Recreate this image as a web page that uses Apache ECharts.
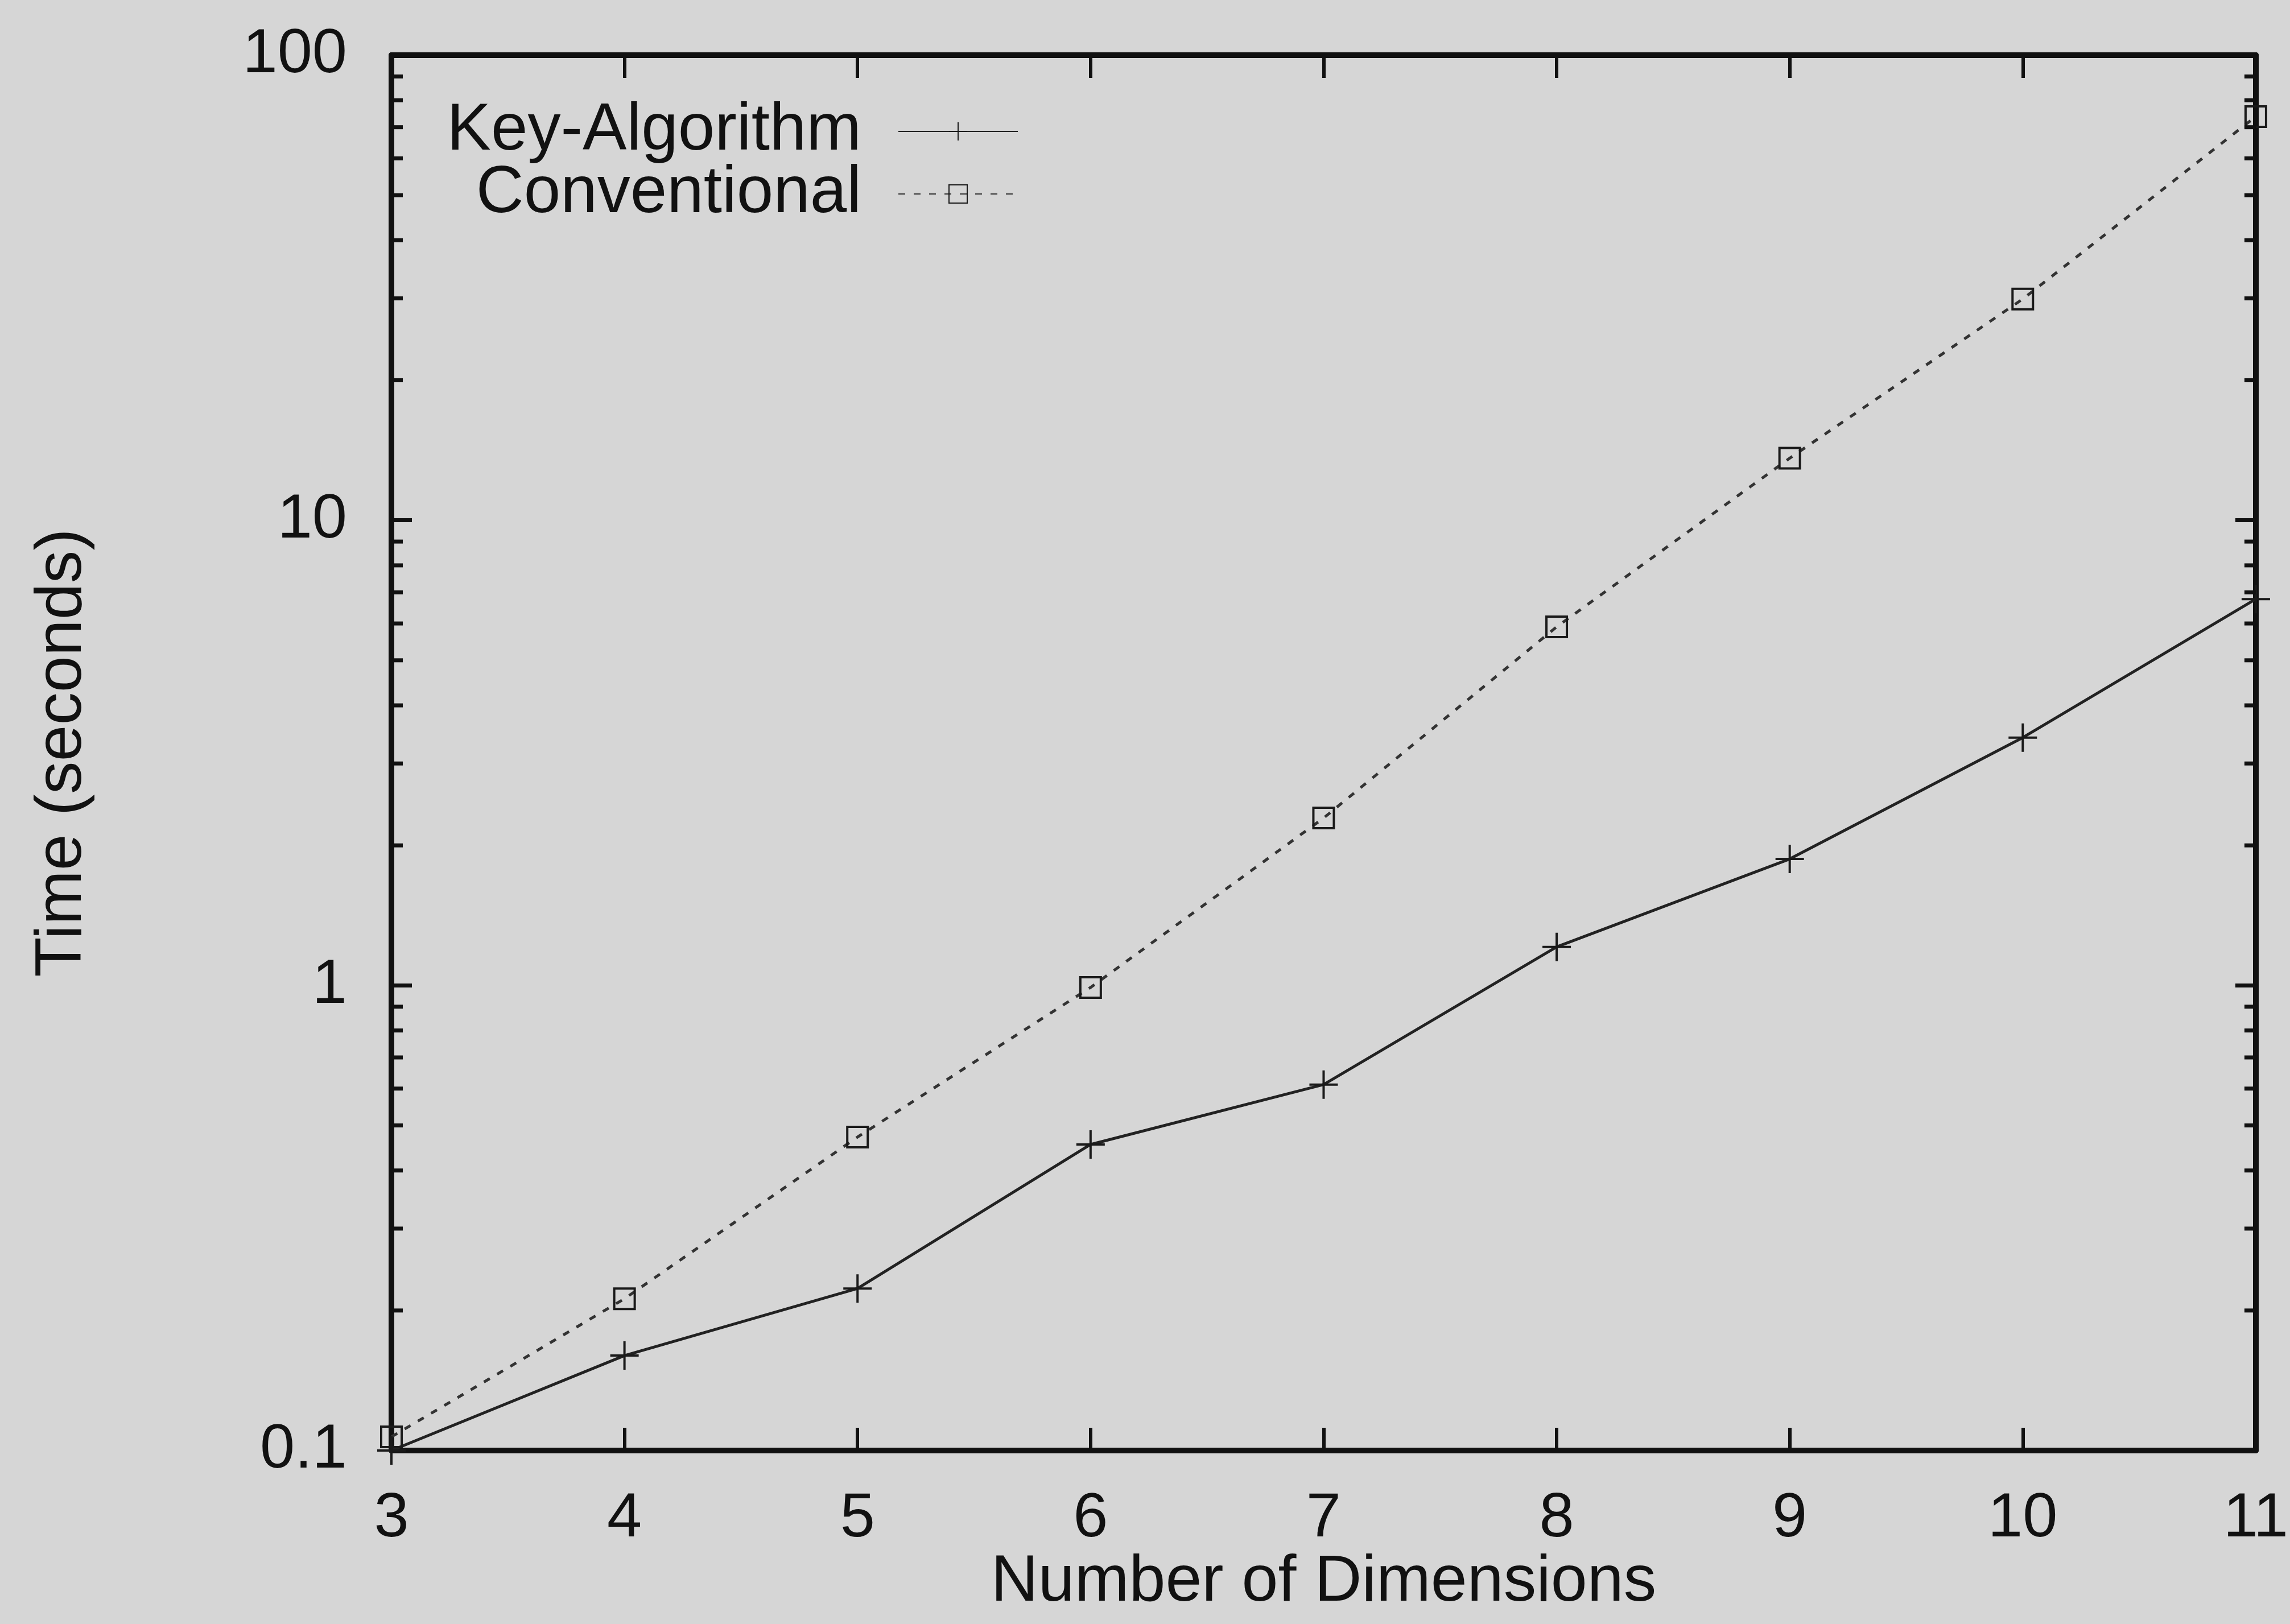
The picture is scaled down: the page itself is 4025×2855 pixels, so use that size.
<!DOCTYPE html>
<html>
<head>
<meta charset="utf-8">
<script src="https://cdn.jsdelivr.net/npm/echarts@6/dist/echarts.min.js"></script>
<style>
html,body{margin:0;padding:0;background:#d6d6d6;}
#chart{width:4025px;height:2855px;}
</style>
</head>
<body>
<div id="chart"></div>
<script>
const dimensions = [3, 4, 5, 6, 7, 8, 9, 10, 11];
const keyAlgorithm = [0.1, 0.16, 0.223, 0.455, 0.612, 1.21, 1.87, 3.41, 6.77];
const conventional = [0.107, 0.212, 0.472, 0.99, 2.29, 5.9, 13.6, 29.9, 73.8];
const minorTickValues = [0.2,0.3,0.4,0.5,0.6,0.7,0.8,0.9,2,3,4,5,6,7,8,9,20,30,40,50,60,70,80,90];
const xMin = 3, xMax = 11, yMin = 0.1, yMax = 100;

const FONT = 'Liberation Sans, Arial, Helvetica, sans-serif';
const INK = '#111';

const chart = echarts.init(document.getElementById('chart'), null, {renderer: 'canvas'});

const plusPath = 'path://M5,0 L5,10 M0,5 L10,5';
const squarePath = 'path://M0,0 L10,0 L10,10 L0,10 Z';

function legendFor(name, top) {
  return {
    data: [name],
    right: 2230,
    top: top,
    orient: 'vertical',
    align: 'right',
    itemWidth: 210,
    itemHeight: 40,
    textStyle: {fontFamily: FONT, fontSize: 116, color: INK, padding: [0, 60, 0, 0]}
  };
}

chart.setOption({
  backgroundColor: '#d6d6d6',
  animation: false,
  grid: {left: 688, right: 57, top: 97, bottom: 305, containLabel: false},
  legend: [legendFor('Key-Algorithm', 168), legendFor('Conventional', 278)],
  xAxis: [{
    type: 'value', min: xMin, max: xMax, interval: 1,
    name: 'Number of Dimensions', nameLocation: 'middle', nameGap: 175,
    nameMoveOverlap: false,
    nameTextStyle: {fontFamily: FONT, fontSize: 115, color: INK},
    axisLine: {show: true, lineStyle: {color: INK, width: 10}},
    axisTick: {show: true, inside: true, length: 40, lineStyle: {color: INK, width: 6}},
    axisLabel: {fontFamily: FONT, fontSize: 110, color: INK, margin: 66},
    splitLine: {show: false}
  }, {
    type: 'value', min: xMin, max: xMax, interval: 1, position: 'top',
    axisLine: {show: true, lineStyle: {color: INK, width: 10}},
    axisTick: {show: true, inside: true, length: 40, lineStyle: {color: INK, width: 6}},
    axisLabel: {show: false},
    splitLine: {show: false}
  }],
  yAxis: [{
    type: 'log', logBase: 10, min: yMin, max: yMax,
    name: 'Time (seconds)', nameLocation: 'middle', nameGap: 520,
    nameTextStyle: {fontFamily: FONT, fontSize: 115, color: INK},
    axisLine: {show: true, lineStyle: {color: INK, width: 10}},
    axisTick: {show: true, inside: true, length: 36, lineStyle: {color: INK, width: 7}},
    axisLabel: {fontFamily: FONT, fontSize: 110, color: INK, margin: 78,
      formatter: v => String(+v.toPrecision(6))},
    splitLine: {show: false},
    minorTick: {show: false}
  }, {
    type: 'log', logBase: 10, min: yMin, max: yMax, position: 'right',
    axisLine: {show: true, lineStyle: {color: INK, width: 10}},
    axisTick: {show: true, inside: true, length: 36, lineStyle: {color: INK, width: 7}},
    axisLabel: {show: false},
    splitLine: {show: false}
  }],
  series: [{
    name: 'Key-Algorithm',
    type: 'line',
    data: dimensions.map((d, i) => [d, keyAlgorithm[i]]),
    symbol: plusPath,
    symbolSize: 50,
    showAllSymbol: true,
    lineStyle: {color: '#222', width: 5},
    itemStyle: {color: 'none', borderColor: '#1a1a1a', borderWidth: 4},
    z: 3
  }, {
    name: 'Conventional',
    type: 'line',
    data: dimensions.map((d, i) => [d, conventional[i]]),
    symbol: squarePath,
    symbolSize: 36,
    showAllSymbol: true,
    lineStyle: {color: '#333', width: 5, type: [12, 15]},
    itemStyle: {color: 'none', borderColor: '#1a1a1a', borderWidth: 4},
    z: 3
  }, {
    name: 'minorTicks',
    type: 'custom',
    silent: true,
    clip: false,
    data: minorTickValues.map(v => [xMin, v]),
    renderItem: function (params, api) {
      const v = api.value(1);
      const pl = api.coord([xMin, v]);
      const pr = api.coord([xMax, v]);
      const style = {stroke: INK, lineWidth: 7};
      return {
        type: 'group',
        children: [
          {type: 'line', shape: {x1: pl[0], y1: pl[1], x2: pl[0] + 20, y2: pl[1]}, style: style},
          {type: 'line', shape: {x1: pr[0], y1: pr[1], x2: pr[0] - 20, y2: pr[1]}, style: style}
        ]
      };
    },
    z: 4
  }]
});
</script>
</body>
</html>
